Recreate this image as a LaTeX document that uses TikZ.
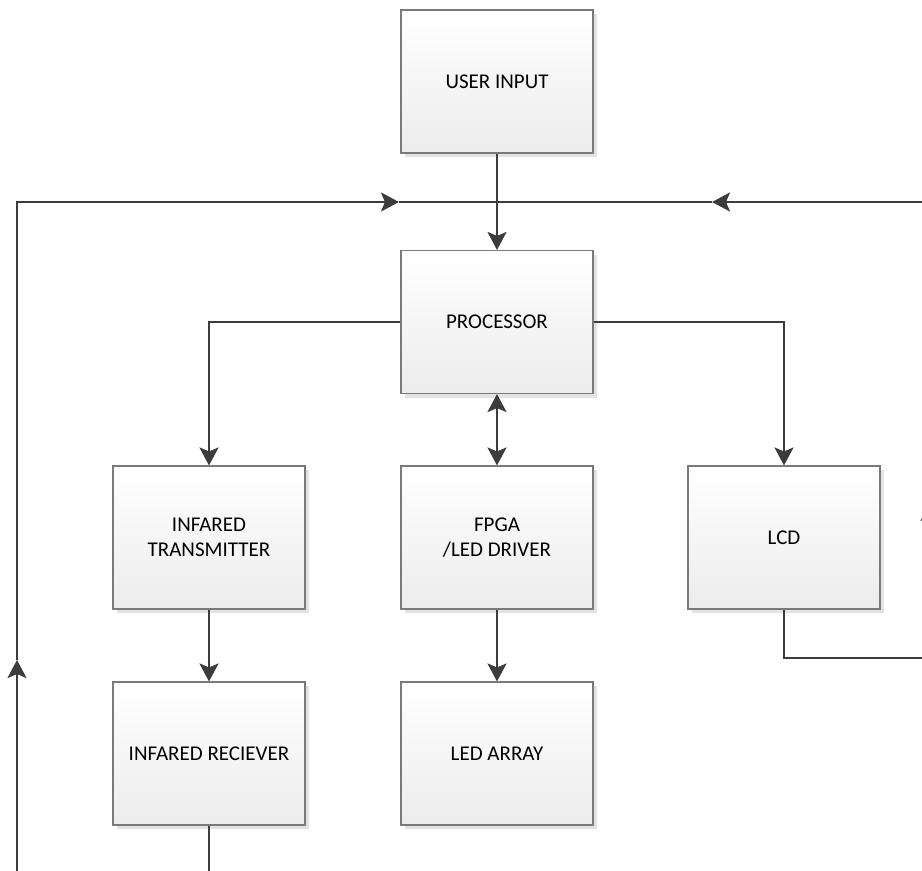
\documentclass[tikz,border=0pt]{standalone}
\usepackage{fontspec}
\setmainfont{Carlito}
\usetikzlibrary{arrows.meta,shadows}
\definecolor{linec}{HTML}{3C3C3C}
\definecolor{boxborder}{HTML}{7A7A7A}
\definecolor{boxbot}{HTML}{ECECEC}
\definecolor{shadowc}{HTML}{E3E3E3}
\begin{document}
\begin{tikzpicture}[x=1pt,y=-1pt,
  box/.style={draw=boxborder, line width=1.1pt, top color=white, bottom color=boxbot,
    minimum width=192pt, minimum height=143pt, inner sep=0pt, align=center,
    font=\fontsize{21}{25.6}\selectfont, text=black,
    drop shadow={shadow xshift=4pt, shadow yshift=-4pt, fill=shadowc, opacity=1}},
  wire/.style={draw=linec, line width=2.4pt},
  tip/.style={-{Stealth[length=18pt,width=19pt,inset=4pt]}},
  bitip/.style={{Stealth[length=18pt,width=19pt,inset=4pt]}-{Stealth[length=18pt,width=19pt,inset=4pt]}}]
\useasboundingbox (0,0) rectangle (922,871);
\clip (0,0) rectangle (922,871);

\node[box] (ui)   at (497,81.5)  {USER INPUT};
\node[box] (proc) at (497,322)   {PROCESSOR};
\node[box] (tx)   at (209,537.5) {INFARED\\TRANSMITTER};
\node[box] (fpga) at (497,537.5) {FPGA\\/LED DRIVER};
\node[box] (lcd)  at (784,537.5) {LCD};
\node[box] (rx)   at (209,753.5) {INFARED RECIEVER};
\node[box] (led)  at (497,753.5) {LED ARRAY};

% loop coordinates
\coordinate (bl)  at (209,900);
\coordinate (lb)  at (17,900);
\coordinate (la)  at (17,660);
\coordinate (lt)  at (17,202);
\coordinate (ta)  at (399,202);
\coordinate (tb)  at (712,202);
\coordinate (rt)  at (930,202);
\coordinate (ra)  at (930,503);
\coordinate (rb)  at (930,658);

\draw[wire,tip] (ui.south) -- (proc.north);
\draw[wire,tip] (proc.west) -| (tx.north);
\draw[wire,tip] (proc.east) -| (lcd.north);
\draw[wire,bitip] (proc.south) -- (fpga.north);
\draw[wire,tip] (fpga.south) -- (led.north);
\draw[wire,tip] (tx.south) -- (rx.north);

% left feedback loop
\draw[wire] (rx.south) -- (bl) -- (lb);
\draw[wire,tip] (lb) -- (la);
\draw[wire,tip] (la) -- (lt) -- (ta);
\draw[wire] (ta) -- (tb);
% right feedback loop
\draw[wire] (lcd.south) |- (rb);
\draw[wire,tip] (rb) -- (ra);
\draw[wire,tip] (ra) -- (rt) -- (tb);
\end{tikzpicture}
\end{document}
